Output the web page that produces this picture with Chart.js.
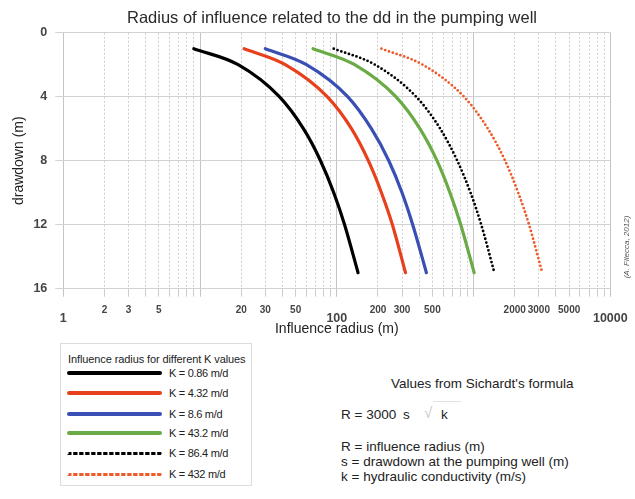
<!DOCTYPE html>
<html><head><meta charset="utf-8">
<script src="https://cdn.jsdelivr.net/npm/chart.js@4"></script>
<style>
html,body{margin:0;padding:0;background:#fff;}
#wrap{position:relative;width:635px;height:499px;overflow:hidden;font-family:"Liberation Sans",Arial,sans-serif;color:#222;}
#c{position:absolute;left:0;top:0;}
#title{position:absolute;left:82px;width:500px;top:7px;line-height:20px;text-align:center;font-size:16.5px;color:#2a2a2a;}
#credit{position:absolute;left:587px;top:242px;width:80px;text-align:center;font-size:8px;line-height:10px;font-style:italic;color:#555;transform:rotate(-90deg);white-space:nowrap;}
#legend{position:absolute;left:60px;top:343px;width:192px;height:143px;border:1px solid #dcdcdc;box-sizing:border-box;}
#legend .lt{position:absolute;left:7px;top:9px;font-size:11px;line-height:13px;color:#222;white-space:nowrap;letter-spacing:-0.1px;}
#legend .row{position:absolute;left:6px;height:14px;width:180px;}
#legend .sw{position:absolute;left:0;top:5px;width:95px;height:0;}
#legend .lb{position:absolute;left:102px;top:0;font-size:11px;line-height:14px;color:#222;white-space:nowrap;letter-spacing:-0.3px;}
.fx{position:absolute;font-size:13.5px;line-height:15px;color:#222;white-space:nowrap;}
</style></head>
<body><div id="wrap">
<canvas id="c" width="635" height="340"></canvas>
<div id="title">Radius of influence related to the dd in the pumping well</div>
<div id="credit">(A. Filecca, 2012)</div>
<div id="legend"><div class="lt">Influence radius for different K values</div></div>
<div class="fx" style="left:391px;top:376px;">Values from Sichardt's formula</div>
<div class="fx" style="left:341px;top:407px;">R = 3000</div>
<div class="fx" style="left:403px;top:407px;">s</div>
<div class="fx" style="left:424px;top:405px;color:#c8c8c8;font-size:15px;">√</div>
<div style="position:absolute;left:433px;top:401px;width:28px;height:0;border-top:1px solid #e2e2e2;"></div>
<div class="fx" style="left:441px;top:407px;">k</div>
<div class="fx" style="left:341px;top:439px;">R = influence radius (m)</div>
<div class="fx" style="left:341px;top:454px;">s = drawdown at the pumping well (m)</div>
<div class="fx" style="left:341px;top:469px;">k = hydraulic conductivity (m/s)</div>
</div>
<script>
// ---- data ----
const drawdown = [1, 2, 4, 6, 8, 10, 12, 15];            // m
const radius_K0_86 = [9, 19, 38, 57, 76, 95, 114, 143];    // m
const radius_K4_32 = [21, 42, 85, 128, 170, 212, 255, 318];
const radius_K8_6  = [30, 60, 120, 179, 240, 300, 359, 452];
const radius_K43_2 = [67, 135, 270, 405, 540, 672, 806, 1010];
const radius_K86_4 = [95, 190, 380, 570, 760, 950, 1138, 1420];
const radius_K432  = [212, 424, 850, 1272, 1700, 2120, 2545, 3180];
const seriesLabels = ['K = 0.86 m/d', 'K = 4.32 m/d', 'K = 8.6 m/d', 'K = 43.2 m/d', 'K = 86.4 m/d', 'K = 432 m/d'];
const xGridValues = [1,2,3,4,5,6,7,8,9,10,20,30,40,50,60,70,80,90,100,200,300,400,500,600,700,800,900,1000,2000,3000,4000,5000,6000,7000,8000,9000,10000];
const xLabelsSmall = [2,3,5,20,30,50,200,300,500,2000,3000,5000];
const xLabelsBig = [1,100,10000];
const xMajor = [1,10,100,1000,10000];
const yTicks = [0,4,8,12,16];

const styles = [
  {color:'#000000', dotted:false},
  {color:'#e8401c', dotted:false},
  {color:'#3a4fb4', dotted:false},
  {color:'#6aab45', dotted:false},
  {color:'#000000', dotted:true},
  {color:'#ef5a2a', dotted:true}
];
const seriesValues = [radius_K0_86, radius_K4_32, radius_K8_6, radius_K43_2, radius_K86_4, radius_K432];

const datasets = seriesValues.map((vals, i) => ({
  label: seriesLabels[i],
  data: vals.map((r, j) => ({x: r, y: drawdown[j]})),
  borderColor: styles[i].color,
  backgroundColor: styles[i].color,
  borderWidth: styles[i].dotted ? 2.8 : 3.2,
  borderDash: styles[i].dotted ? [0, 4] : [],
  borderCapStyle: 'round',
  pointRadius: 0,
  cubicInterpolationMode: 'monotone',
  fill: false
}));

// legend (HTML)
const lg = document.getElementById('legend');
const rowTops = [29, 49, 70, 89, 109, 130];
seriesLabels.forEach((t, i) => {
  const row = document.createElement('div');
  row.className = 'row';
  row.style.top = (rowTops[i] - 7) + 'px';
  const sw = document.createElement('div');
  sw.className = 'sw';
  sw.style.borderTop = styles[i].dotted ? ('3.5px dotted ' + styles[i].color) : ('4.5px solid ' + styles[i].color);
  sw.style.borderRadius = '2px';
  if (styles[i].dotted) sw.style.top = '6px';
  const lb = document.createElement('div');
  lb.className = 'lb';
  lb.textContent = t;
  row.appendChild(sw); row.appendChild(lb);
  lg.appendChild(row);
});

new Chart(document.getElementById('c'), {
  type: 'line',
  data: {datasets},
  options: {
    responsive: false,
    animation: false,
    devicePixelRatio: 1,
    layout: {padding: {top: 32.7, right: 21.7, bottom: 0, left: 0}},
    plugins: {legend: {display: false}, title: {display: false}, tooltip: {enabled: false}},
    scales: {
      x: {
        type: 'logarithmic',
        min: 1, max: 10000,
        afterBuildTicks: s => { s.ticks = xGridValues.map(v => ({value: v, major: xMajor.includes(v)})); },
        afterFit: s => { s.height = 340 - 288.7; },
        ticks: {
          autoSkip: false, maxRotation: 0, minRotation: 0, padding: 7.3,
          color: '#444',
          callback: v => xLabelsBig.includes(v) ? ['', String(v)] : (xLabelsSmall.includes(v) ? String(v) : ''),
          font: ctx => (ctx.tick && xLabelsBig.includes(ctx.tick.value))
            ? {family: 'Liberation Sans', size: 12.5, weight: 'bold', lineHeight: 0.8}
            : {family: 'Liberation Sans', size: 10, weight: 'bold', lineHeight: 1.2}
        },
        grid: {
          color: ctx => (ctx.tick && xMajor.includes(ctx.tick.value)) ? '#c4c4c4' : '#cdcdcd',
          lineWidth: 1, tickLength: 8
        },
        border: {display: false, dash: ctx => (ctx.tick && xMajor.includes(ctx.tick.value)) ? [] : [2, 2]},
        title: {display: true, text: 'Influence radius (m)', color: '#222',
          font: {family: 'Liberation Sans', size: 14}, padding: {top: 0, bottom: 2.6}}
      },
      y: {
        type: 'linear', reverse: true, min: 0, max: 16,
        afterBuildTicks: s => { s.ticks = yTicks.map(v => ({value: v})); },
        afterFit: s => { s.width = 63.3; },
        ticks: {color: '#444', padding: 8, font: {family: 'Liberation Sans', size: 12.5, weight: 'bold'}},
        grid: {color: '#d2d2d2', lineWidth: 1, tickLength: 8},
        border: {display: false},
        title: {display: true, text: 'drawdown (m)', color: '#222',
          font: {family: 'Liberation Sans', size: 14}, padding: {top: 10.6, bottom: 0}}
      }
    }
  }
});
</script>
</body></html>
